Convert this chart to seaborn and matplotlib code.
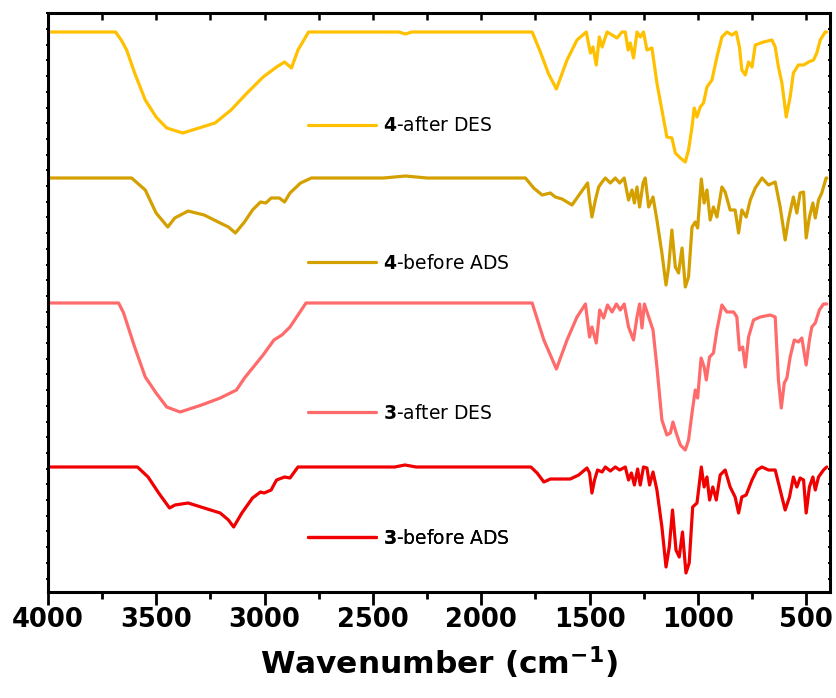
import numpy as np
import pandas as pd
import matplotlib
matplotlib.use("Agg")
import matplotlib.pyplot as plt
from matplotlib.ticker import FixedLocator, MultipleLocator
import seaborn as sns

# ---- FTIR spectra (wavenumber in cm-1, stacked transmittance in a.u.) ----
wn_4_after = [4000, 3688, 3662, 3637, 3600, 3551, 3501, 3452, 3378, 3303, 3229, 3155, 3081, 3007, 2945, 2908,
              2876, 2846, 2797, 2380, 2350, 2320, 1765, 1727, 1689, 1653, 1604, 1558, 1515, 1496, 1484,
              1469, 1455, 1442, 1419, 1396, 1373, 1350, 1335, 1322, 1312, 1297, 1281, 1266, 1251, 1235,
              1212, 1189, 1166, 1143, 1120, 1104, 1081, 1058, 1043, 1027, 1017, 1004, 989, 974, 958, 935,
              912, 889, 866, 843, 823, 808, 797, 781, 766, 750, 735, 697, 658, 643, 628, 612, 592, 574,
              559, 536, 512, 489, 466, 451, 435, 412, 405]
t_4_after = [560, 560, 552, 542, 519, 492, 475, 464, 459, 464, 469, 482, 499, 515, 525, 530,
             524, 542, 560, 560, 558, 560, 560, 540, 518, 503, 532, 552, 560, 539, 545,
             527, 555, 545, 560, 557, 554, 560, 560, 542, 549, 534, 560, 555, 560, 542,
             544, 509, 482, 455, 454, 439, 434, 430, 442, 465, 484, 475, 485, 489, 505, 512,
             535, 555, 560, 557, 560, 545, 522, 517, 530, 525, 547, 550, 552, 545, 525, 509, 475, 495,
             519, 527, 527, 530, 532, 539, 552, 560, 560]

wn_4_before = [4000, 3614, 3551, 3501, 3447, 3415, 3353, 3279, 3205, 3167, 3135, 3093, 3056, 3019, 2994,
               2970, 2932, 2908, 2883, 2834, 2784, 2450, 2350, 2250, 1796, 1758, 1719, 1681, 1658, 1627,
               1581, 1542, 1509, 1500, 1489, 1473, 1458, 1442, 1427, 1404, 1381, 1361, 1340, 1320, 1304,
               1293, 1281, 1269, 1253, 1243, 1227, 1207, 1189, 1166, 1147, 1135, 1120, 1104, 1089, 1073,
               1058, 1043, 1027, 1012, 1001, 984, 971, 958, 943, 928, 912, 889, 874, 851, 828, 812, 797,
               777, 758, 735, 704, 674, 643, 620, 597, 582, 559, 543, 528, 512, 500, 485, 469, 458, 443,
               428, 408, 405]
t_4_before = [414, 414, 402, 379, 365, 374, 381, 377, 369, 365, 359, 370, 382, 390, 389,
              394, 394, 390, 399, 409, 414, 414, 416, 414, 414, 404, 397, 399, 395, 393,
              387, 399, 409, 392, 375, 392, 405, 410, 414, 409, 414, 409, 414, 392, 402,
              389, 405, 385, 409, 414, 385, 395, 372, 339, 307, 325, 362, 325, 319, 344,
              305, 315, 365, 370, 364, 413, 389, 402, 372, 385, 375, 405, 400, 382, 382, 359, 382,
              375, 392, 404, 414, 407, 410, 385, 352, 372, 395, 379, 399, 400, 354, 375, 389, 374, 392,
              399, 414, 414]

wn_3_after = [4000, 3674, 3651, 3600, 3551, 3501, 3452, 3390, 3291, 3205, 3130, 3093, 3007, 2957, 2920,
              2883, 2809, 1765, 1711, 1653, 1604, 1558, 1519, 1500, 1489, 1469, 1453, 1435, 1417, 1396,
              1376, 1358, 1340, 1320, 1297, 1281, 1269, 1258, 1247, 1227, 1207, 1189, 1166, 1143, 1127,
              1115, 1100, 1081, 1058, 1043, 1027, 1012, 1001, 985, 971, 961, 946, 928, 912, 889, 866,
              835, 820, 808, 793, 781, 766, 743, 712, 666, 643, 628, 615, 601, 589, 574, 555, 536, 520,
              500, 485, 474, 458, 439, 420, 405]
t_3_after = [289, 289, 279, 245, 215, 199, 185, 180, 187, 194, 202, 214, 237, 252, 257,
             265, 289, 289, 252, 223, 252, 275, 288, 255, 265, 249, 282, 274, 287, 280,
             288, 282, 288, 265, 252, 275, 288, 264, 288, 275, 262, 225, 172, 157, 159,
             170, 159, 147, 142, 152, 179, 202, 194, 234, 225, 212, 235, 239, 262, 287, 280,
             280, 275, 242, 245, 225, 255, 272, 275, 277, 275, 212, 184, 209, 214, 235, 252, 250, 254,
             227, 252, 265, 269, 282, 288, 288]

wn_3_before = [4000, 3587, 3538, 3489, 3439, 3414, 3353, 3279, 3205, 3167, 3143, 3105, 3056, 3019, 3002,
               2970, 2945, 2908, 2883, 2846, 2400, 2352, 2300, 1771, 1742, 1711, 1681, 1589, 1550, 1512,
               1500, 1489, 1477, 1463, 1442, 1427, 1404, 1381, 1361, 1335, 1320, 1307, 1293, 1278, 1266,
               1251, 1235, 1223, 1207, 1189, 1166, 1147, 1132, 1117, 1101, 1086, 1071, 1055, 1040, 1024,
               1004, 984, 971, 958, 946, 931, 915, 897, 874, 851, 828, 812, 797, 777, 750, 727, 704, 674,
               643, 620, 597, 577, 559, 543, 528, 512, 500, 485, 469, 458, 443, 420, 405]
t_3_before = [125, 125, 115, 99, 84, 87, 89, 84, 79, 72, 65, 79, 94, 100, 99,
              102, 112, 115, 114, 125, 125, 127, 125, 125, 119, 110, 113, 113, 117, 124,
              119, 99, 112, 122, 120, 125, 121, 125, 122, 125, 112, 119, 107, 123, 107,
              125, 124, 107, 120, 102, 65, 25, 45, 82, 42, 35, 60, 19, 29, 85,
              89, 125, 105, 115, 92, 105, 92, 117, 122, 105, 95, 79, 95, 97, 112, 122, 125, 122,
              122, 102, 82, 95, 115, 105, 114, 112, 79, 105, 115, 102, 115, 122, 125]

samples = ["4-after DES", "4-before ADS", "3-after DES", "3-before ADS"]
labels = [r"$\mathbf{4}$-after DES", r"$\mathbf{4}$-before ADS",
          r"$\mathbf{3}$-after DES", r"$\mathbf{3}$-before ADS"]
colors = ["#FFC000", "#D4A000", "#FF6B6B", "#F00000"]
xticks = [4000, 3500, 3000, 2500, 2000, 1500, 1000, 500]

df = pd.concat([
    pd.DataFrame({"wavenumber": w, "signal": t, "sample": s})
    for w, t, s in zip([wn_4_after, wn_4_before, wn_3_after, wn_3_before],
                       [t_4_after, t_4_before, t_3_after, t_3_before], samples)
], ignore_index=True)

sns.set_theme(style="white")
plt.rcParams["font.family"] = ["DejaVu Sans"]
plt.rcParams["mathtext.fontset"] = "dejavusans"
plt.rcParams["text.color"] = "black"
plt.rcParams["axes.labelcolor"] = "black"
plt.rcParams["xtick.color"] = "black"
plt.rcParams["ytick.color"] = "black"

fig = plt.figure(figsize=(8.37, 6.98), dpi=100)
ax = fig.add_axes([48 / 837, 106 / 698, 782 / 837, 579 / 698])

sns.lineplot(data=df, x="wavenumber", y="signal", hue="sample", hue_order=samples,
             palette=colors, sort=False, estimator=None, legend=False,
             linewidth=2.3, ax=ax)
for ln in ax.lines:
    ln.set_solid_joinstyle("round")
    ln.set_solid_capstyle("round")

ax.set_xlim(4000, 390)
ax.set_ylim(0, 579)

# inline legend entries placed under each spectrum
legend_y = [0.8054, 0.5677, 0.3087, 0.0928]
for ln, lab, yy in zip(ax.lines, labels, legend_y):
    leg = ax.legend([ln], [lab], loc="center left", bbox_to_anchor=(0.3325, yy),
                    frameon=False, fontsize=13.5, handlelength=3.6, handletextpad=0.4,
                    borderpad=0, borderaxespad=0, labelcolor="black")
    ax.add_artist(leg)

# axes frame and ticks
for sp in ax.spines.values():
    sp.set_visible(True)
    sp.set_color("black")
    sp.set_linewidth(2.2)

ax.xaxis.set_major_locator(FixedLocator(xticks))
ax.xaxis.set_minor_locator(MultipleLocator(250))
ax.set_xticklabels([str(v) for v in xticks], fontsize=18.5, fontweight="bold", color="black")
ax.tick_params(axis="x", which="major", direction="out", length=9, width=2, pad=2,
               bottom=True, top=False)
ax.tick_params(axis="x", which="minor", direction="out", length=5, width=2,
               bottom=True, top=False)

ax.yaxis.set_major_locator(FixedLocator(np.arange(13.5, 580, 15.7)))
ax.tick_params(axis="y", which="major", direction="inout", length=3.5, width=1.4,
               left=True, right=True, labelleft=False, labelright=False)

# inward ticks along the top edge
top_ticks = np.arange(3750, 390, -250)
ax.vlines(top_ticks, 1 - 7 / 579, 1, transform=ax.get_xaxis_transform(),
          colors="black", linewidth=1.8, clip_on=False)

ax.set_xlabel(r"Wavenumber (cm$^{\mathbf{-1}}$)", fontsize=22.5, fontweight="bold",
              labelpad=8, color="black")
ax.set_ylabel("")

fig.savefig("out.png", dpi=100)
